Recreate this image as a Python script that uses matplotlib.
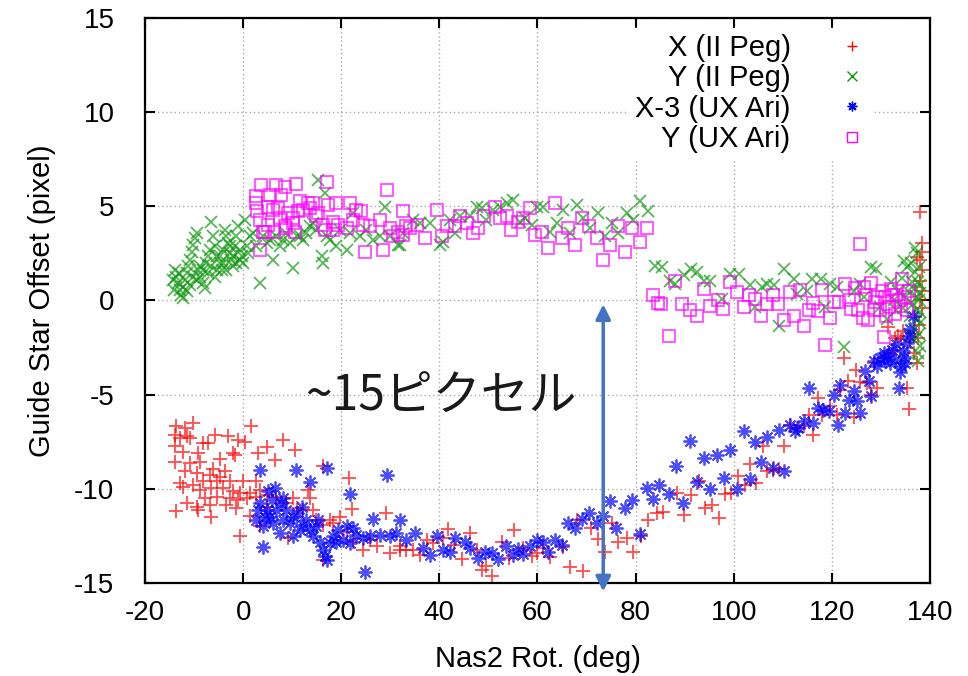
import numpy as np
import matplotlib
matplotlib.use("Agg")
import matplotlib.pyplot as plt

# X (II Peg): (rotation deg, offset pixel)
peg_x = [
    (-13.6, -6.69), (-11.9, -6.78), (-10.2, -6.51), (-13.9, -7.14), (-12.9, -7.31),
    (-11.5, -7.22), (-10.9, -7.31), (-8.2, -7.58), (-7.1, -7.58), (-5.8, -7.13),
    (-3.1, -7.22), (-1.0, -7.40), (0.3, -7.49), (1.7, -6.65), (-13.9, -7.75),
    (-12.2, -8.02), (-9.2, -8.11), (-2.0, -8.11), (3.1, -8.11), (4.8, -7.79),
    (8.2, -7.40), (10.5, -7.93), (-13.9, -8.55), (-10.9, -8.64), (-8.8, -8.55),
    (-4.8, -8.42), (-1.7, -8.19), (6.5, -8.46), (-11.9, -9.08), (-9.5, -9.17),
    (-6.1, -8.96), (-3.7, -9.08), (-6.8, -9.26), (-4.8, -9.35), (-12.9, -9.70),
    (-10.2, -9.79), (-8.2, -9.61), (-5.4, -9.61), (-2.7, -9.61), (0.0, -9.61),
    (2.7, -9.61), (-12.2, -9.88), (-8.8, -10.05), (-6.5, -9.96), (-4.1, -9.96),
    (-2.0, -10.14), (-0.7, -10.23), (1.4, -10.23), (3.4, -10.05), (-7.8, -10.50),
    (-5.4, -10.41), (-2.7, -10.50), (-1.0, -10.58), (0.7, -10.50), (2.7, -10.41),
    (4.8, -10.32), (6.8, -10.41), (-11.5, -10.76), (-9.5, -10.94), (-6.8, -10.85),
    (-3.4, -10.85), (-1.4, -11.03), (-13.6, -11.20), (-9.2, -11.12), (-6.5, -11.47),
    (1.4, -11.43), (-0.7, -12.53), (13.2, -10.05), (13.6, -10.50), (10.2, -10.50),
    (8.8, -10.76), (10.9, -11.03), (12.2, -11.12), (14.3, -11.12), (16.3, -8.81),
    (21.6, -9.43), (22.1, -11.08), (16.3, -13.77), (17.7, -11.65), (19.7, -11.47),
    (18.3, -11.82), (29.2, -11.29), (25.8, -12.71), (27.2, -13.06), (29.9, -13.42),
    (31.9, -13.06), (24.5, -13.24), (21.1, -12.27), (22.4, -12.80), (4.8, -10.94),
    (9.2, -12.62), (3.4, -12.0), (14.9, -11.65), (16.3, -11.91),
    (32.0, -13.24), (33.3, -13.24), (34.7, -13.24), (36.1, -13.50), (37.4, -12.71),
    (38.8, -12.88), (40.8, -12.62), (41.8, -12.14), (42.9, -12.97), (44.6, -13.73),
    (46.3, -12.32), (47.6, -13.24), (48.6, -14.30), (49.6, -14.09), (50.7, -14.65),
    (52.7, -12.80), (54.1, -13.68), (55.2, -12.21), (57.1, -13.15), (58.8, -13.56),
    (59.8, -13.42), (61.2, -13.15), (62.6, -13.63), (65.3, -13.10), (66.6, -14.16),
    (69.3, -14.34), (71.0, -12.09), (72.4, -12.67), (73.8, -13.33), (75.1, -11.82),
    (76.5, -12.80), (78.2, -12.62), (79.5, -13.38), (81.2, -12.50), (82.6, -11.65),
    (84.3, -11.29), (68.0, -11.65),
    (85.6, -11.21), (89.8, -11.38), (88.5, -10.23), (91.3, -10.32), (92.9, -9.61),
    (94.2, -11.03), (95.6, -10.85), (96.9, -11.56), (98.3, -10.27), (99.5, -10.23),
    (100.8, -9.31), (102.2, -9.79), (103.4, -8.67), (104.6, -9.70), (106.0, -7.71),
    (106.8, -9.08), (108.0, -8.99), (109.2, -8.95), (110.3, -7.71), (111.5, -6.60),
    (112.9, -6.77), (114.4, -6.68), (115.3, -6.06), (116.2, -7.13), (117.1, -5.18),
    (118.0, -6.06), (119.6, -5.59), (121.1, -6.06), (121.7, -4.73), (123.2, -4.29),
    (124.5, -6.19), (125.0, -3.67), (125.8, -4.34), (127.2, -4.38), (127.9, -5.0),
    (129.3, -4.65), (130.6, -3.05), (131.6, -2.78), (132.6, -2.61), (134.0, -2.07),
    (135.3, -4.65), (135.7, -5.76), (136.7, -2.78), (137.4, -3.32), (122.4, -3.05),
    (128.5, -3.32),
    (138.0, 4.72), (138.3, 3.03), (138.4, 2.6), (138.0, 2.17), (137.4, 2.3),
    (138.3, 1.6), (138.0, 1.06), (138.3, 0.5), (138.0, 0.0), (138.3, -0.4),
    (137.0, -0.9), (131.5, -1.4), (132.8, -2.0), (134.5, -1.6), (136.0, -2.2),
    (137.8, -1.3), (137.6, -2.0), (136.8, -1.8), (133.5, -1.9),
]

# Y (II Peg)
peg_y = [
    (-13.9, 1.63), (-13.6, 1.27), (-13.2, 0.92), (-12.9, 0.57), (-12.6, 0.30),
    (-12.2, 0.74), (-11.9, 1.10), (-11.5, 1.45), (-11.2, 1.81), (-10.9, 2.16),
    (-10.5, 2.60), (-10.2, 2.96), (-9.85, 3.31), (-9.5, 3.58), (-9.2, 1.63),
    (-8.8, 1.27), (-8.2, 0.92), (-7.8, 0.65), (-7.5, 1.98), (-7.1, 2.34),
    (-6.8, 2.69), (-6.5, 4.19), (-6.1, 3.40), (-5.8, 2.87), (-5.4, 2.34),
    (-4.8, 1.98), (-4.4, 1.63), (-4.1, 2.69), (-3.7, 3.75), (-3.4, 3.40),
    (-3.1, 3.04), (-2.7, 2.51), (-2.4, 2.16), (-2.0, 1.81), (-1.7, 2.87),
    (-1.4, 3.40), (-1.0, 3.93), (-0.7, 2.69), (-0.3, 2.34), (0.0, 1.98),
    (0.3, 4.28), (0.7, 2.87), (1.0, 2.51), (1.4, 3.40), (2.0, 3.58),
    (2.7, 2.87), (3.4, 0.92), (4.1, 3.40), (4.8, 3.04), (5.4, 3.22),
    (6.1, 2.16), (6.8, 3.40), (7.5, 2.87), (8.2, 3.22), (8.8, 3.58),
    (9.5, 3.04), (10.2, 1.72), (10.9, 3.40), (11.5, 3.40), (12.2, 3.22),
    (12.9, 3.58), (13.6, 3.93), (14.3, 4.11), (14.9, 3.75), (15.3, 6.41),
    (16.0, 2.34), (16.3, 1.98), (16.6, 5.70), (17.0, 3.40), (17.7, 3.22),
    (19.0, 2.87), (19.7, 3.75), (21.1, 2.69), (21.7, 3.58), (22.4, 4.64),
    (23.8, 3.40), (25.1, 3.75), (26.5, 3.22), (27.9, 3.40), (28.9, 4.99),
    (29.9, 3.40), (31.6, 2.96), (32.6, 3.58),
    (-14.3, 1.10), (-14.1, 0.57), (-13.0, 1.45), (-12.2, 0.12), (-11.5, 0.48),
    (-10.9, 0.83), (-10.2, 1.27), (-9.5, 1.10), (-8.8, 1.81), (-8.2, 1.63),
    (-7.1, 1.45), (-6.5, 1.81), (-5.8, 1.27), (-5.4, 1.63), (-4.8, 2.34),
    (-4.1, 1.98), (-3.4, 1.63), (-2.7, 2.87), (-2.0, 2.34), (-1.4, 1.98),
    (-0.7, 2.16),
    (32.0, 2.96), (34.7, 4.28), (36.1, 4.11), (38.1, 4.11), (40.1, 2.96),
    (40.8, 3.13), (42.2, 4.28), (43.2, 3.58), (44.2, 4.46), (46.3, 4.46),
    (47.6, 4.99), (48.6, 4.90), (49.6, 4.28), (51.0, 4.81), (52.4, 4.99),
    (53.7, 5.17), (55.1, 5.35), (56.4, 4.19), (57.5, 4.37), (58.8, 4.02),
    (59.8, 4.99), (61.2, 4.99), (62.6, 3.66), (63.9, 4.11), (65.3, 4.81),
    (66.6, 3.58), (68.0, 5.08), (69.3, 4.37), (70.7, 3.84), (72.4, 4.64),
    (73.8, 3.40), (75.1, 4.11), (76.5, 3.58), (78.2, 4.64), (79.5, 4.28),
    (80.9, 5.26), (82.6, 4.73), (84.0, 1.81),
    (85.4, 1.77), (87.1, 1.06), (88.1, 0.88), (89.8, 1.33), (91.2, 1.68),
    (92.5, 1.50), (93.9, 1.06), (95.2, 1.06), (97.6, 0.09), (99.3, 1.42),
    (101.0, 1.42), (103.4, 0.80), (104.4, -0.35), (105.8, 0.71), (106.8, 0.88),
    (108.2, 0.80), (109.2, -1.33), (110.2, 1.68), (112.2, 1.15), (112.9, 0.35),
    (114.9, 0.53), (116.0, 1.15), (117.7, 1.15), (118.7, -0.35), (119.7, 0.88),
    (121.1, 0.71), (122.4, -2.48), (124.5, 0.53), (125.8, 0.88), (126.5, 0.18),
    (127.9, 1.77), (128.9, 1.68), (129.9, -0.35), (131.2, -0.97), (132.6, 0.0),
    (134.2, 1.2), (134.8, 2.1), (135.3, 1.8), (135.6, 0.5), (135.9, -0.8),
    (136.1, 2.0), (136.3, 1.0), (136.5, -0.2), (136.7, -1.5), (136.8, 0.6),
    (137.0, 1.5), (137.1, -0.5), (137.2, -2.0), (137.3, 0.2), (137.4, 2.5),
    (137.5, -1.0), (137.6, 1.0), (137.6, -2.8), (137.7, 0.0), (137.8, -1.8),
    (137.8, 1.8), (137.9, -0.6), (137.9, 0.8), (138.0, -1.2), (138.0, -2.4),
    (138.0, 0.4), (137.5, -3.2), (136.0, -1.8), (135.0, 0.2), (134.5, -0.4),
    (133.5, 0.5), (133.0, -0.5), (132.0, 1.0), (136.9, 2.8),
]

# X-3 (UX Ari)
ux_x3 = [
    (3.5, -8.99), (10.7, -8.99), (17.0, -8.90), (13.7, -9.66), (21.7, -10.27),
    (29.3, -9.26), (26.4, -11.61), (31.9, -11.65), (4.1, -13.10), (24.8, -14.42),
    (5.1, -10.14), (6.5, -9.96), (8.2, -10.50), (3.4, -10.76), (2.7, -11.65),
    (4.1, -12.00), (5.4, -11.47), (6.8, -11.12), (7.5, -12.35), (8.8, -11.12),
    (9.5, -11.82), (10.2, -12.53), (10.9, -11.29), (12.2, -11.91), (12.9, -11.65),
    (13.6, -12.18), (14.3, -12.53), (14.9, -12.00), (15.6, -12.80), (16.3, -13.24),
    (17.0, -13.77), (17.7, -12.88), (18.3, -12.53), (19.4, -12.18), (20.4, -12.71),
    (21.7, -12.88), (23.1, -12.44), (24.5, -12.62), (25.8, -12.53), (28.0, -12.44),
    (29.9, -12.53), (31.2, -12.35), (33.3, -12.71), (4.8, -11.12), (11.9, -10.94),
    (15.3, -11.65), (16.6, -13.59), (19.0, -12.80), (21.1, -12.00), (22.4, -12.09),
    (3.1, -11.12), (4.4, -11.47), (6.1, -11.82), (8.2, -11.65), (10.2, -11.47),
    (11.5, -12.18), (7.8, -10.76), (5.8, -10.58),
    (35.0, -12.35), (36.7, -13.15), (38.1, -13.50), (39.5, -12.53), (40.8, -13.24),
    (42.2, -13.33), (43.2, -12.62), (45.2, -12.80), (46.3, -13.15), (47.9, -13.68),
    (49.3, -13.38), (50.7, -13.42), (52.0, -13.73), (53.6, -13.03), (55.1, -13.50),
    (56.1, -13.20), (57.1, -13.45), (58.5, -13.03), (59.8, -12.71), (61.2, -12.85),
    (62.2, -13.33), (63.6, -12.71), (64.9, -12.97), (66.3, -11.82), (67.6, -12.09),
    (69.0, -11.61), (70.4, -11.26), (72.1, -11.82), (73.4, -11.43), (74.8, -10.67),
    (76.1, -12.09), (77.8, -11.03), (79.2, -10.58), (80.9, -12.39), (82.3, -9.96),
    (83.6, -10.55), (84.8, -9.79),
    (86.8, -10.27), (88.3, -8.78), (89.7, -10.76), (91.0, -7.48), (92.5, -9.66),
    (93.9, -8.37), (95.2, -10.02), (96.6, -8.19), (98.0, -9.43), (99.3, -7.93),
    (100.7, -10.02), (102.0, -6.95), (103.3, -9.49), (104.4, -7.54), (105.6, -8.60),
    (106.8, -7.25), (108.0, -8.90), (109.2, -6.90), (110.2, -9.08), (111.4, -6.60),
    (112.4, -6.95), (113.2, -6.77), (114.3, -6.42), (115.3, -4.65), (116.2, -6.51),
    (117.1, -5.71), (118.2, -5.80), (119.4, -5.89), (120.4, -5.00), (121.2, -6.60),
    (121.7, -4.47), (122.6, -5.98), (123.4, -5.27), (124.5, -4.82), (125.1, -5.35),
    (125.8, -5.98), (126.8, -3.76), (127.5, -4.29), (128.0, -5.05), (128.5, -3.23),
    (129.3, -3.49), (129.9, -3.05), (130.9, -3.23), (131.9, -3.32), (132.9, -3.14),
    (133.6, -4.65), (134.6, -2.70), (135.3, -2.25), (135.7, -1.90), (134.0, -3.49),
    (130.6, -2.78), (132.3, -2.61), (131.2, -2.9), (133.0, -2.3), (134.8, -3.0),
    (136.0, -1.5), (136.5, -0.8), (133.8, -3.8), (135.0, -3.3),
]

# Y (UX Ari)
ux_y = [
    (2.6, 5.56), (3.6, 6.14), (2.6, 5.17), (2.9, 4.73), (3.4, 4.28),
    (4.1, 3.66), (3.4, 2.69), (5.4, 5.61), (6.7, 6.14), (8.5, 6.02),
    (7.8, 5.61), (10.7, 6.18), (17.0, 6.27), (29.3, 5.88), (5.1, 4.99),
    (7.1, 4.90), (9.2, 4.64), (11.5, 5.26), (13.2, 5.17), (14.3, 5.17),
    (15.3, 4.64), (17.3, 5.08), (19.0, 5.17), (21.7, 5.17), (23.1, 4.81),
    (24.1, 4.73), (32.6, 4.73), (5.1, 4.02), (7.5, 4.37), (8.8, 3.84),
    (10.2, 4.11), (11.2, 4.73), (12.2, 4.81), (13.6, 4.90), (14.9, 4.46),
    (16.3, 4.02), (18.3, 4.19), (19.4, 4.02), (21.1, 3.84), (22.4, 4.28),
    (24.5, 4.02), (25.8, 3.93), (27.9, 4.28), (29.9, 3.84), (31.6, 3.66),
    (33.3, 3.93), (4.4, 3.66), (6.3, 3.66), (8.5, 3.93), (10.5, 3.66),
    (16.6, 3.75), (18.3, 3.75), (24.8, 2.60), (28.5, 2.69), (30.6, 3.40),
    (32.6, 3.49), (6.1, 4.81), (10.2, 4.37),
    (34.0, 3.84), (35.4, 4.02), (37.1, 3.31), (39.5, 4.81), (40.5, 3.40),
    (41.5, 3.93), (43.2, 3.93), (44.2, 4.46), (45.6, 4.11), (46.9, 3.58),
    (47.9, 3.84), (49.0, 4.46), (51.3, 4.99), (52.4, 4.37), (53.7, 4.46),
    (54.7, 3.75), (56.1, 4.19), (57.1, 4.37), (58.5, 4.90), (59.5, 3.49),
    (60.9, 3.66), (62.2, 2.78), (63.6, 5.17), (64.9, 3.31), (66.3, 3.84),
    (67.6, 2.96), (69.0, 4.37), (70.4, 3.93), (72.1, 3.31), (73.4, 2.16),
    (74.8, 2.96), (76.5, 3.93), (77.8, 2.55), (79.2, 3.84), (80.8, 3.13),
    (82.3, 3.84), (83.6, 0.30), (84.6, -0.14),
    (85.2, -0.21), (86.8, -1.91), (88.1, 1.06), (89.5, -0.18), (91.0, -0.53),
    (92.5, -0.80), (93.9, 0.62), (95.2, -0.27), (96.7, 0.04), (97.9, -0.44),
    (99.3, 0.97), (100.7, 0.44), (102.0, -0.32), (103.1, 0.27), (104.4, 0.09),
    (105.6, -0.85), (106.8, -0.21), (108.0, 0.27), (109.0, -0.18), (110.2, -1.06),
    (111.4, 0.44), (112.2, -0.80), (113.5, 0.57), (114.3, -1.33), (115.3, -0.50),
    (116.2, -0.14), (117.1, -0.57), (118.0, 0.57), (119.6, -0.92), (118.7, -2.39),
    (120.4, -0.09), (121.4, -0.09), (122.6, 0.88), (123.4, 0.0), (123.9, -0.44),
    (124.8, 0.67), (125.3, -0.50), (125.8, 3.01), (126.4, -0.92), (126.6, 0.71),
    (127.3, -1.06), (128.0, 0.92), (128.5, -0.53), (129.2, 0.18), (129.9, -0.53),
    (130.6, -1.95), (130.9, 0.18), (131.6, -0.35), (132.3, 0.27), (132.9, -0.71),
    (133.6, 0.0), (134.3, 1.15), (135.0, 0.18), (135.3, -0.53), (135.7, 0.53),
    (127.0, 0.3), (128.8, -0.1), (130.2, 0.5), (131.0, -0.8), (132.0, 0.6),
    (133.0, 0.3), (134.0, -0.3),
]

x_ticks = [-20, 0, 20, 40, 60, 80, 100, 120, 140]
y_ticks = [-15, -10, -5, 0, 5, 10, 15]

plt.rcParams['font.family'] = ['Liberation Sans', 'DejaVu Sans']
plt.rcParams['axes.unicode_minus'] = False

fig = plt.figure(figsize=(9.68, 6.76), dpi=100)
ax = fig.add_axes([0.1498, 0.1376, 0.8109, 0.8358])

series = [
    (peg_x, "X (II Peg)", dict(marker="+", color="#ff0000", ms=10, mew=1.3)),
    (peg_y, "Y (II Peg)", dict(marker="x", color="#109910", ms=8, mew=1.3)),
    (ux_x3, "X-3 (UX Ari)", dict(marker=(8, 2, 0), color="#0000ff", ms=10, mew=1.3)),
    (ux_y, "Y (UX Ari)", dict(marker="s", color="#ff00ff", ms=8, mew=1.3, mfc="none")),
]
for pts, label, style in series:
    arr = np.array(pts)
    ax.plot(arr[:, 0], arr[:, 1], ls="none", alpha=0.7, label=label, **style)

ax.set_xlim(-20, 140)
ax.set_ylim(-15, 15)
ax.set_xticks(x_ticks)
ax.set_yticks(y_ticks)
ax.grid(True, color="#aaaaaa", ls=(0, (1, 2)), lw=1.0)
ax.set_axisbelow(True)
ax.tick_params(direction="in", length=7, width=1.5, top=True, right=True, labelsize=20)
ax.tick_params(axis="x", pad=12)
ax.tick_params(axis="y", pad=22)
for sp in ax.spines.values():
    sp.set_linewidth(1.6)

ax.set_xlabel("Nas2 Rot. (deg)", fontsize=21, labelpad=14)
ax.set_ylabel("Guide Star Offset (pixel)", fontsize=21, labelpad=13)

leg = ax.legend(loc="upper right", bbox_to_anchor=(0.945, 1.008), markerfirst=False,
                fontsize=21, frameon=True, fancybox=False, edgecolor="white",
                framealpha=1.0, handletextpad=1.6, labelspacing=0.08,
                borderpad=0.2, handlelength=1.0)
for h in leg.legend_handles:
    h.set_alpha(1.0)
    h.set_markersize(7)
    h.set_markeredgewidth(1.0)

# 15 pixel span arrow
ax.annotate("", xy=(73.4, -15.45), xytext=(73.4, -0.2), annotation_clip=False,
            arrowprops=dict(arrowstyle="<|-|>", color="#4472c4", lw=2.5,
                            mutation_scale=22, shrinkA=0, shrinkB=0))
ax.text(12.6, -5.1, "~15ピクセル", fontsize=34.5, color="#1a1a1a", ha="left", va="center",
        family=["Noto Sans CJK JP", "DejaVu Sans"])

fig.savefig("out.png", dpi=100)
